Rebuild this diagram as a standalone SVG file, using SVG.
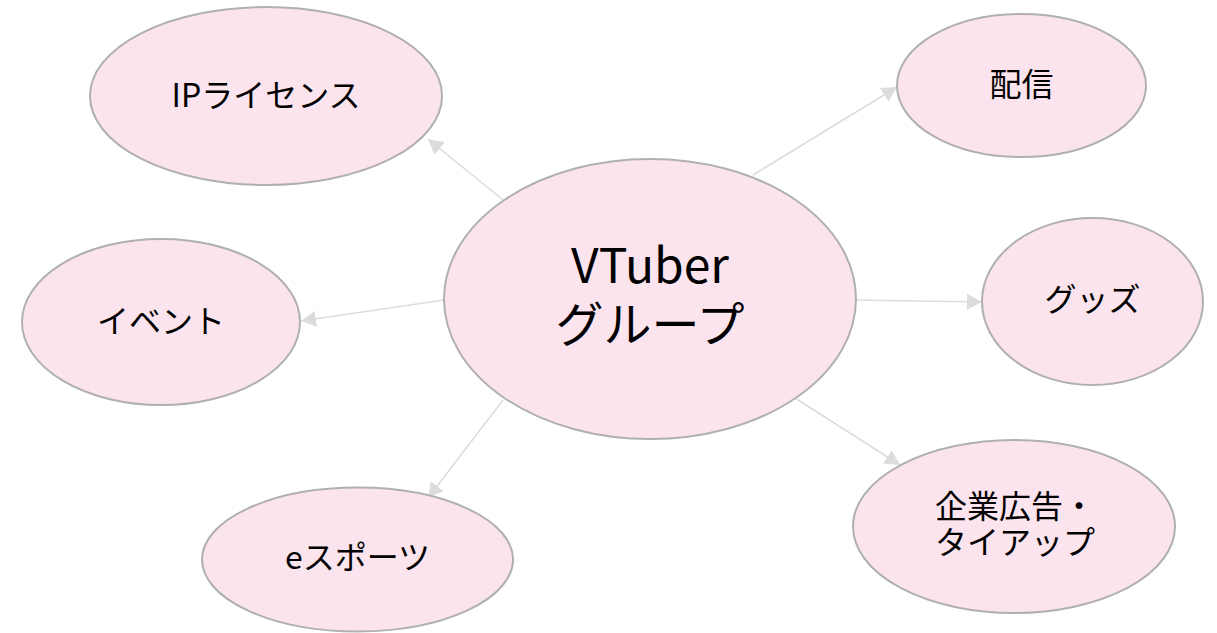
<svg xmlns="http://www.w3.org/2000/svg" width="1217" height="633" viewBox="0 0 1217 633">
<style>
  .node ellipse { fill: #fce4ee; stroke: #b0b0b0; stroke-width: 2; }
  .node text { font-family: "Noto Sans CJK JP", "Noto Sans", sans-serif; font-weight: 400; fill: #000000; text-anchor: middle; }
  .lbl { font-size: 32px; }
  .big { font-size: 48px; }
  .edge { stroke: #dcdcdc; stroke-width: 1.5; fill: none; marker-end: url(#arrow); }
</style>
<defs>
  <marker id="arrow" markerUnits="userSpaceOnUse" markerWidth="15" markerHeight="16" refX="15" refY="8" orient="auto">
    <path d="M0,0 L15,8 L0,16 Z" fill="#dcdcdc"/>
  </marker>
</defs>
<rect width="1217" height="633" fill="#ffffff"/>
<g id="connectors">
  <line class="edge" x1="503" y1="200" x2="428" y2="139"/>
  <line class="edge" x1="753" y1="175" x2="897" y2="87"/>
  <line class="edge" x1="444" y1="300" x2="301" y2="321"/>
  <line class="edge" x1="855" y1="300" x2="982" y2="302"/>
  <line class="edge" x1="503" y1="400" x2="428" y2="498"/>
  <line class="edge" x1="795" y1="398" x2="900" y2="465"/>
</g>
<g id="node-center" class="node">
  <ellipse cx="650" cy="299" rx="206" ry="140"/>
  <text class="big" x="650" y="283">VTuber</text>
  <text class="big" x="650" y="342">グループ</text>
</g>
<g id="node-ip" class="node">
  <ellipse cx="266" cy="96" rx="176" ry="89"/>
  <text class="lbl" x="266" y="107">IPライセンス</text>
</g>
<g id="node-haishin" class="node">
  <ellipse cx="1021.5" cy="85.5" rx="124.5" ry="71.5"/>
  <text class="lbl" x="1021.5" y="96">配信</text>
</g>
<g id="node-event" class="node">
  <ellipse cx="161" cy="322" rx="139" ry="83"/>
  <text class="lbl" x="161" y="333">イベント</text>
</g>
<g id="node-goods" class="node">
  <ellipse cx="1092.5" cy="301.5" rx="110.5" ry="83.5"/>
  <text class="lbl" x="1092.5" y="311">グッズ</text>
</g>
<g id="node-esports" class="node">
  <ellipse cx="357.5" cy="559.5" rx="155.5" ry="72"/>
  <text class="lbl" x="357.5" y="569">eスポーツ</text>
</g>
<g id="node-ad" class="node">
  <ellipse cx="1014" cy="526.5" rx="161" ry="86.5"/>
  <text class="lbl" x="1015" y="518">企業広告・</text>
  <text class="lbl" x="1015" y="554">タイアップ</text>
</g>
</svg>
